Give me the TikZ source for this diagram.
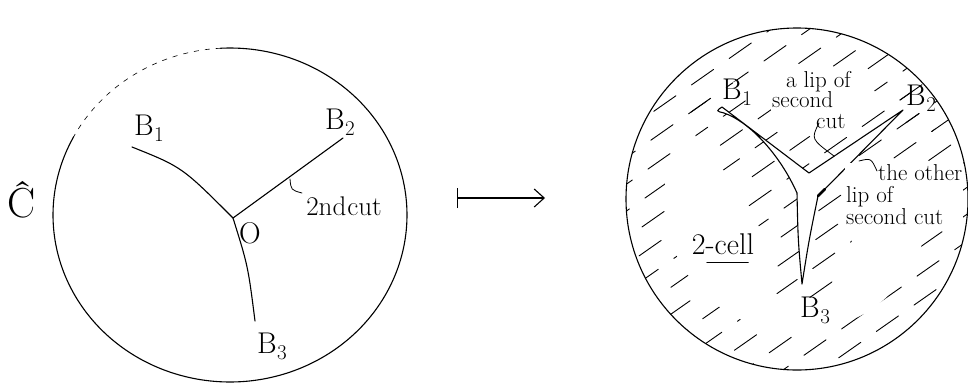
\documentclass[tikz,border=0pt]{standalone}
\usepackage{fontspec}
\usetikzlibrary{arrows.meta,calc}
\newcommand\Bsub[1]{B\kern0.5pt\raisebox{-0.2em}{\fontsize{21}{21}\selectfont #1}}
\begin{document}
\begin{tikzpicture}[x=1pt,y=-1pt,
  line/.style={line width=1.1pt, line cap=round, line join=round},
  thin/.style={line width=0.8pt, line cap=round},
  hatchln/.style={line width=0.9pt, line cap=round, dash pattern=on 27pt off 19pt},
  big/.style={font=\fontsize{30}{32}\selectfont, inner sep=0pt},
  lab/.style={font=\fontsize{25}{27}\selectfont, inner sep=0pt},
  grp/.style={font=\fontsize{23}{22}\selectfont, inner sep=1pt, align=left},
]
\newcommand\hatchlines{%
  \begin{scope}[shift={(797,199)}, rotate=35]
    \foreach \k in {-9,...,9}{%
      \pgfmathsetmacro\ph{mod(\k*19+460,46)}
      \draw[hatchln, dash phase=\ph pt] (-200,\k*22) -- (200,\k*22);
    }
  \end{scope}}
\useasboundingbox (0,0) rectangle (968,383);
\clip (0,0) rectangle (968,383);

% ---------------- left picture ----------------
\draw[line] plot[domain=152:453, samples=120, smooth] ({230+177*cos(\x)},{215-167*sin(\x)});
\draw[line width=0.6pt, dash pattern=on 5pt off 6pt] plot[domain=93:152, samples=30, smooth] ({230+177*cos(\x)},{215-167*sin(\x)});

\coordinate (O) at (233,218);
\coordinate (b1) at (132,147);
\coordinate (b2) at (343,138);
\coordinate (b3) at (255,321);
\coordinate (tk1) at (290,179);
\coordinate (tk2) at (302,193);

\draw[line] (b1) .. controls (182,167) .. (O);
\draw[line] (O) -- (b2);
\draw[line] (O) .. controls (248,266) .. (b3);
\draw[thin] (tk1) .. controls (291,190) .. (tk2);

\node[font=\fontsize{42}{44}\selectfont, inner sep=0pt] (chat) at (22,200) {Ĉ};
\node[big] (lb1) at (149,128) {\Bsub{1}};
\node[big] (lb2) at (340,122) {\Bsub{2}};
\node[big] (lb3) at (272,346) {\Bsub{3}};
\node[big] (lo) at (250,233) {O};
\node[lab, font=\fontsize{27}{29}\selectfont] (cut2) at (344,206) {2nd\kern1pt cut};

% ---------------- maps-to arrow ----------------
\coordinate (ms) at (457,198);
\coordinate (me) at (545,198);
\draw[line, {Bar[width=20pt]}-{Straight Barb[length=10pt,width=18pt,line width=1.1pt]}] (ms) -- (me);

% ---------------- right picture ----------------
\coordinate (c2) at (797,199);
\begin{scope}[even odd rule]
  \clip (c2) circle[radius=171pt] (c2) circle[radius=133pt];
  \hatchlines
\end{scope}
\begin{scope}
  \clip (c2) circle[radius=171pt];
  \clip (688,98) -- (728,80) -- (790,122) -- (812,138) -- (850,118) -- (900,88)
        -- (930,98) -- (936,128) -- (862,200) -- (852,240) -- (838,296) -- (802,302)
        -- (772,292) -- (766,240) -- (735,180) -- (698,148) -- cycle;
  \hatchlines
\end{scope}
\draw[line] (c2) circle[radius=171pt];

\coordinate (T1) at (722,107);
\coordinate (N) at (809,173);
\coordinate (T2) at (903,110);
\coordinate (R) at (818,196);
\coordinate (T3) at (802,284);
\coordinate (L) at (797,193);
\filldraw[line, fill=white] (T1) -- (N) -- (T2) -- (R)
  .. controls (809,240) .. (T3)
  .. controls (798,240) .. (L)
  .. controls (780,155) and (750,122) .. (724,113)
  .. controls (716,111) .. cycle;
\draw[line width=2.6pt, line cap=round] (R) -- (825,189);

\node[big] (rb1) at (737,92) {\Bsub{1}};
\node[big] (rb2) at (921,98) {\Bsub{2}};
\node[big] (rb3) at (815,310) {\Bsub{3}};
\node[grp, font=\fontsize{23}{20.5}\selectfont, anchor=north west, fill=white] (alip) at (771,70) {\hspace{14pt}a lip of\\second\\\hspace{44pt}cut};
\node[grp, anchor=north west, fill=white] (oth) at (845,163) {\hspace{32pt}the other\\lip of\\second cut};
\node[lab, font=\fontsize{30}{32}\selectfont] (cell) at (723,244) {2-cell};
\draw[thin] ($(cell.south west)+(15,8)$) -- ($(cell.south east)+(-6,8)$);

\coordinate (lipA) at (819,123);
\coordinate (lipB) at (834,156);
\draw[thin] (lipA) .. controls (811,139) .. (lipB);
\coordinate (hkA) at (859,161);
\coordinate (hkB) at (877,171);
\draw[thin] (hkA) .. controls (871,158) .. (hkB);
\end{tikzpicture}
\end{document}
